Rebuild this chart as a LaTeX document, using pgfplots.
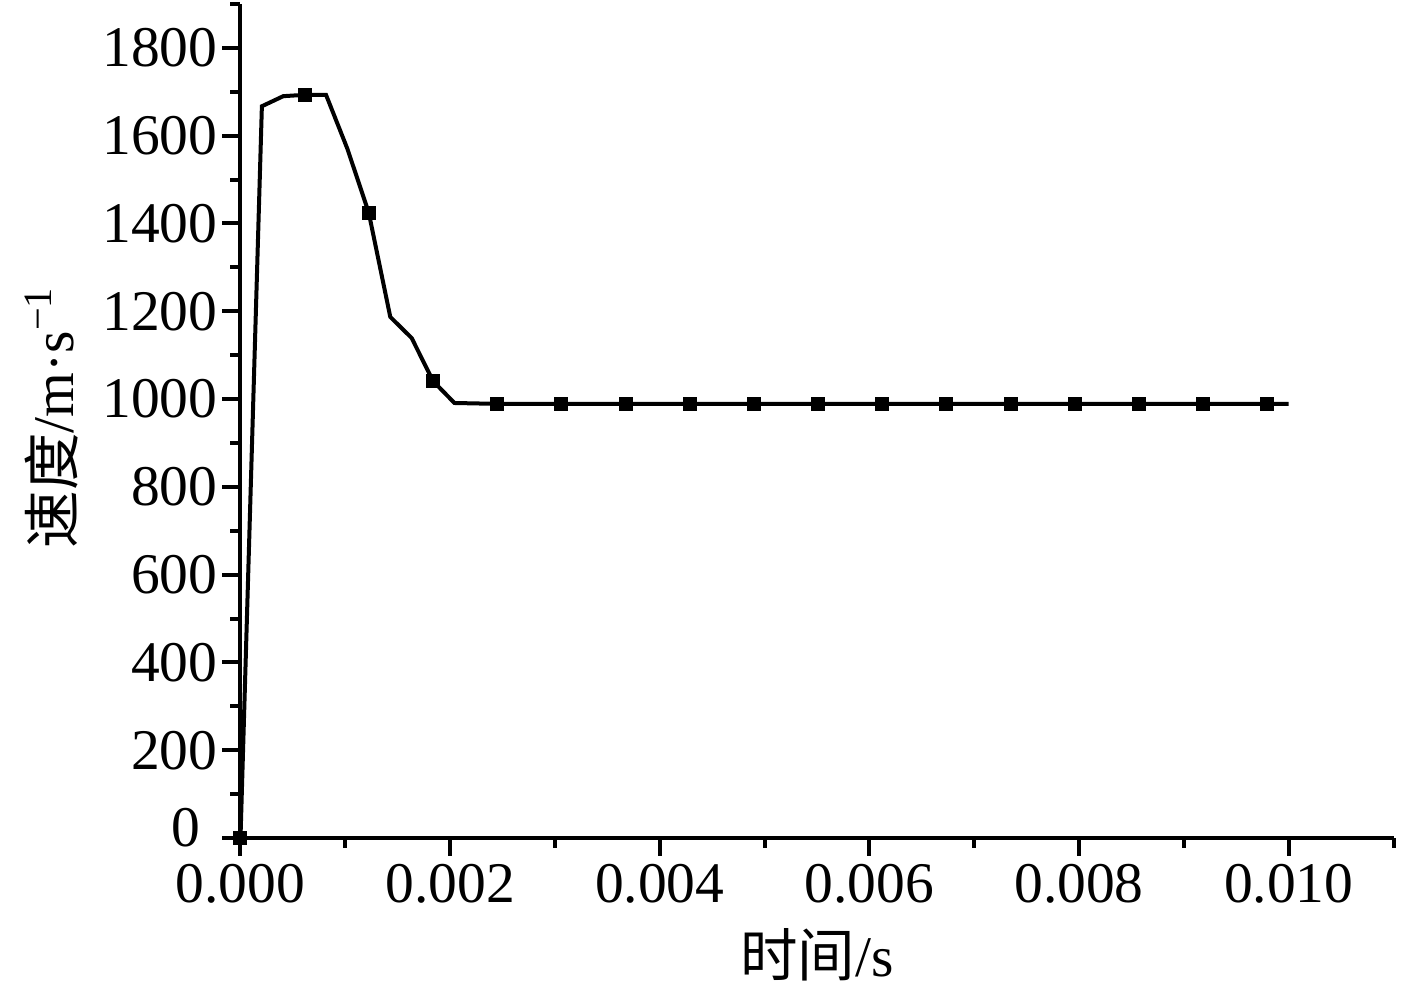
\documentclass[border=0pt]{standalone}
\usepackage{fontspec}
\setmainfont{Liberation Serif}
\newfontfamily\cjk{Noto Sans CJK SC}
\usepackage{pgfplots}
\usetikzlibrary{calc}
\pgfplotsset{compat=1.18}
\begin{document}
\fontsize{11.5}{13}\selectfont
\begin{tikzpicture}
\begin{pgfinterruptboundingbox}
\begin{axis}[
  scale only axis,
  width=230.6pt, height=166.8pt,
  xmin=0, xmax=0.011, ymin=0, ymax=1900,
  axis x line=bottom, axis y line=left,
  axis line style={-, line width=0.8pt},
  tick align=outside,
  major tick length=3.6pt, minor tick length=2pt,
  every tick/.style={black, line width=0.8pt},
  xtick={0,0.002,0.004,0.006,0.008,0.010},
  minor xtick={0.001,0.003,0.005,0.007,0.009,0.011},
  ytick={200,400,600,800,1000,1200,1400,1600,1800},
  minor ytick={100,300,500,700,900,1100,1300,1500,1700,1900},
  extra y ticks={0},
  extra y tick style={yticklabel style={xshift=-3.4pt, yshift=2pt}},
  scaled x ticks=false,
  xticklabel style={yshift=2.4pt, /pgf/number format/fixed, /pgf/number format/fixed zerofill, /pgf/number format/precision=3, /pgf/number format/assume math mode=true},
  yticklabel style={xshift=3pt, /pgf/number format/fixed, /pgf/number format/assume math mode=true, /pgf/number format/1000 sep={}},
  tick label style={font=\fontsize{11.5}{13}\selectfont},
  xlabel={{\cjk 时间}/s},
  ylabel={{\cjk 速度}/m·s\textsuperscript{−1}},
  xlabel style={at={(rel axis cs:0.5,0)}, anchor=center, yshift=-23.4pt, font=\fontsize{11.5}{13}\selectfont},
  every axis y label/.style={at={($(rel axis cs:0,0.505)+(-37.8pt,0)$)}, anchor=center, rotate=90, font=\fontsize{11.5}{13}\selectfont},
  clip=false,
]
\addplot[black, line width=0.8pt, mark=square*, mark size=1pt, mark repeat=3, mark options={solid}] coordinates {
(0,0) (0.000204,1667) (0.000408,1690) (0.000612,1693) (0.000816,1693)
(0.001020,1570) (0.001224,1424) (0.001429,1187) (0.001633,1139) (0.001837,1041)
(0.002041,991) (0.002245,990) (0.002449,989) (0.002653,989) (0.002857,989)
(0.003061,989) (0.003265,989) (0.003469,989) (0.003673,989) (0.003878,989)
(0.004082,989) (0.004286,989) (0.004490,989) (0.004694,989) (0.004898,989)
(0.005102,989) (0.005306,989) (0.005510,989) (0.005714,989) (0.005918,989)
(0.006122,989) (0.006327,989) (0.006531,989) (0.006735,989) (0.006939,989)
(0.007143,989) (0.007347,989) (0.007551,989) (0.007755,989) (0.007959,989)
(0.008163,989) (0.008367,989) (0.008571,989) (0.008776,989) (0.008980,989)
(0.009184,989) (0.009388,989) (0.009592,989) (0.009796,989) (0.010000,989)
};
\coordinate (o) at (axis cs:0,0);
\end{axis}
\end{pgfinterruptboundingbox}
\path[use as bounding box] ([shift={(-48.1pt,167.6pt)}]o) rectangle ([shift={(235.3pt,-29.6pt)}]o);
\end{tikzpicture}
\end{document}
